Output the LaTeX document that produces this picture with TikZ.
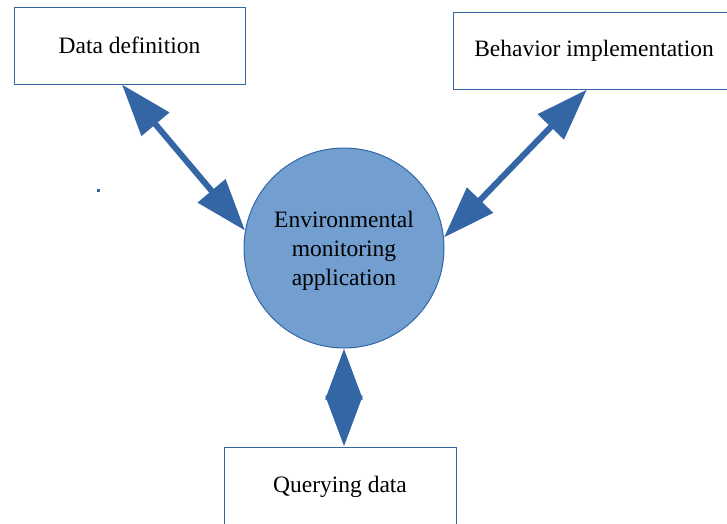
\documentclass[tikz,border=0pt]{standalone}
\usepackage{fontspec}
\setmainfont{Liberation Serif}
\usetikzlibrary{arrows.meta,calc}
\definecolor{arrowblue}{HTML}{3465A4}
\definecolor{circfill}{HTML}{729FCF}
\begin{document}
\begin{tikzpicture}[x=1pt,y=-1pt,
  box/.style={draw=arrowblue, line width=1pt, fill=white, inner sep=0pt,
    font=\fontsize{23.5}{28.5}\selectfont},
  circ/.style={circle, draw=arrowblue, line width=1pt, fill=circfill, inner sep=0pt,
    minimum size=200pt},
  circtext/.style={align=center, inner sep=0pt, font=\fontsize{23.5}{29}\selectfont},
  biarrow/.style={draw=arrowblue, line width=6pt,
    {Triangle[length=52pt,width=35pt]}-{Triangle[length=52pt,width=35pt]}},
  biarrowshort/.style={draw=arrowblue, line width=6pt,
    {Triangle[length=51pt,width=36pt]}-{Triangle[length=51pt,width=36pt]}}]
\useasboundingbox (0,0) rectangle (727,523);
\clip (0,0) rectangle (727,523);
\node[box, minimum width=231pt, minimum height=77pt] (dd) at (129.5,45.5) {Data definition};
\node[box, minimum width=282pt, minimum height=77pt] (bi) at (594,50.5) {Behavior implementation};
\node[box, minimum width=232pt, minimum height=80pt] (qd) at (340,487) {Querying data};
\node[circ] (app) at (344,248) {};
\node[circtext] (apptext) at (344,251) {Environmental\\monitoring\\application};
\draw[biarrow] ($(dd.south west)!0.4675!(dd.south east)$) -- (app.170);
\draw[biarrow] ($(bi.south west)!0.475!(bi.south east)$) -- (app.6);
\draw[biarrowshort] (app.south) -- (app.south |- qd.north);
\fill[arrowblue] (96.5,188.5) rectangle (99.5,191.5);
\end{tikzpicture}
\end{document}
